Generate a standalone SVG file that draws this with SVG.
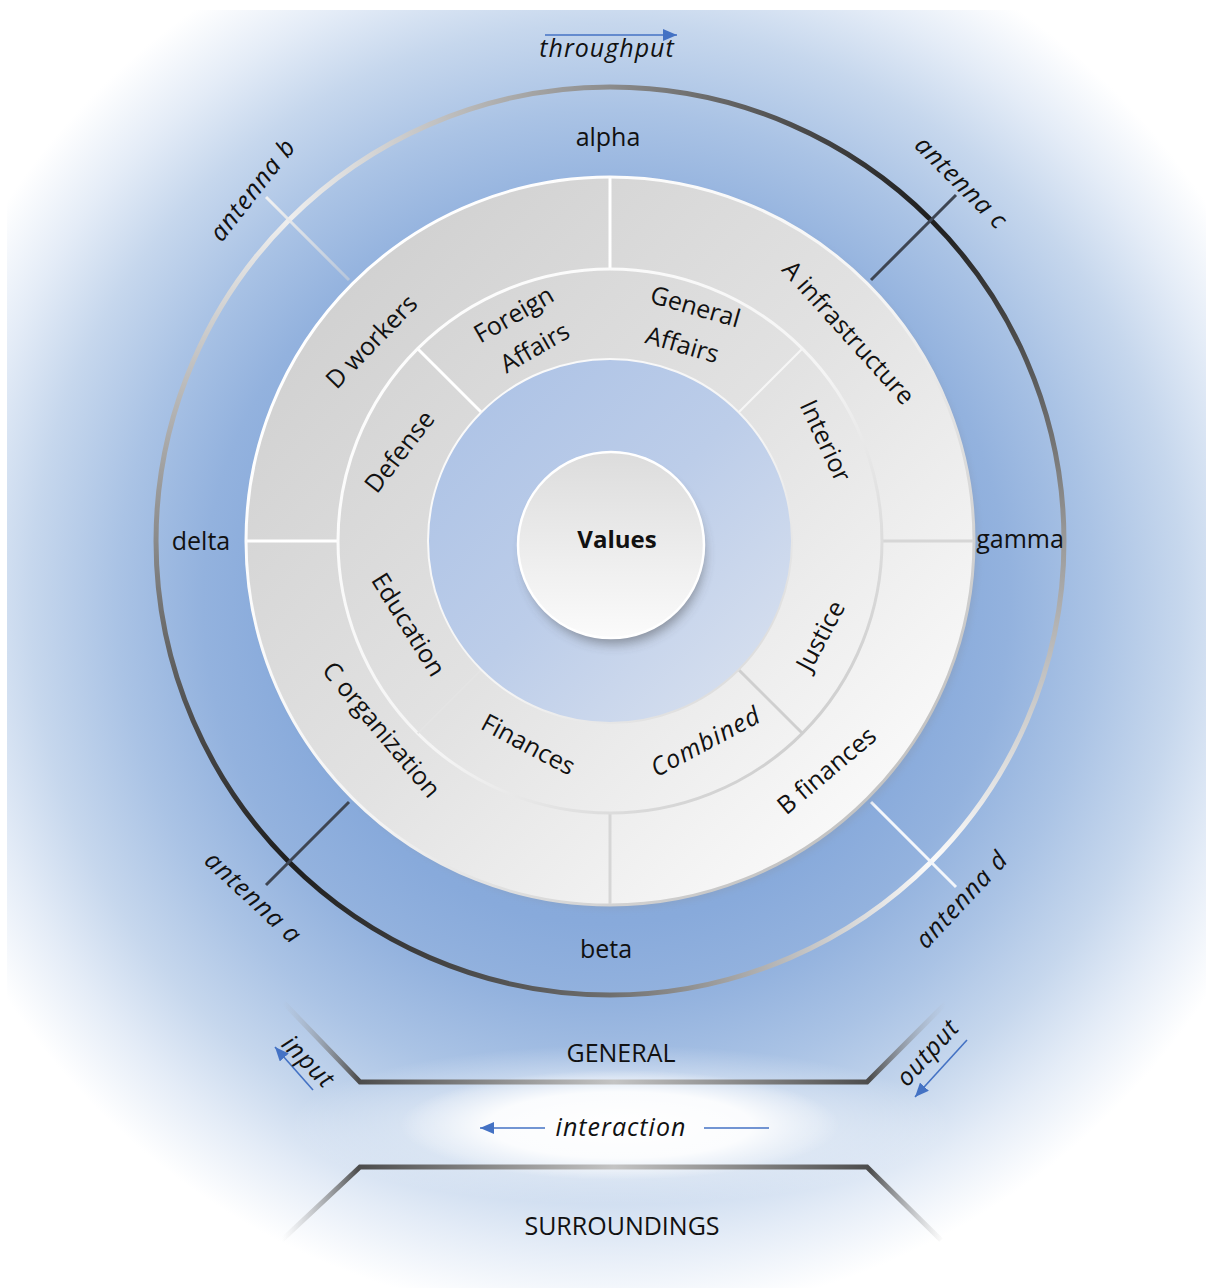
<svg xmlns="http://www.w3.org/2000/svg" width="1206" height="1288" viewBox="0 0 1206 1288">
<style>
.lbl{font-family:"Open Sans","Noto Sans",sans-serif;font-size:25px;fill:#111;text-anchor:middle}
.it{font-style:italic;letter-spacing:1px}
.bold{font-weight:bold;font-size:24px}
.arrow{stroke:#4472c4;stroke-width:1.6;fill:none}
.ant{stroke-width:3;fill:none}
</style>
<defs>
<radialGradient id="bg" gradientUnits="userSpaceOnUse" cx="606" cy="600" r="720">
<stop offset="0" stop-color="#7ea2d6"/>
<stop offset="0.45" stop-color="#88aadb"/>
<stop offset="0.56" stop-color="#93b2de"/>
<stop offset="0.68" stop-color="#aac3e5"/>
<stop offset="0.8" stop-color="#c6d7ed"/>
<stop offset="0.9" stop-color="#e4ecf7"/>
<stop offset="1" stop-color="#ffffff"/>
</radialGradient>
<radialGradient id="glow" cx="0.5" cy="0.5" r="0.5">
<stop offset="0" stop-color="#ffffff" stop-opacity="1"/>
<stop offset="0.6" stop-color="#ffffff" stop-opacity="0.9"/>
<stop offset="1" stop-color="#ffffff" stop-opacity="0"/>
</radialGradient>
<linearGradient id="grayFill" gradientUnits="userSpaceOnUse" x1="330" y1="260" x2="900" y2="830">
<stop offset="0" stop-color="#d0d0d0"/>
<stop offset="0.5" stop-color="#e2e2e2"/>
<stop offset="1" stop-color="#fbfbfb"/>
</linearGradient>
<linearGradient id="edge" gradientUnits="userSpaceOnUse" x1="360" y1="290" x2="860" y2="790">
<stop offset="0" stop-color="#ffffff"/>
<stop offset="0.55" stop-color="#f4f4f4"/>
<stop offset="1" stop-color="#c4c4c4"/>
</linearGradient>
<linearGradient id="blueFill" gradientUnits="userSpaceOnUse" x1="480" y1="410" x2="740" y2="670">
<stop offset="0" stop-color="#afc4e6"/>
<stop offset="0.5" stop-color="#bccde9"/>
<stop offset="1" stop-color="#d3ddee"/>
</linearGradient>
<linearGradient id="btn" x1="0" y1="0" x2="0" y2="1">
<stop offset="0" stop-color="#dcdcdc"/>
<stop offset="1" stop-color="#fbfbfb"/>
</linearGradient>
<linearGradient id="ringTop" gradientUnits="userSpaceOnUse" x1="289" y1="0" x2="931" y2="0">
<stop offset="0" stop-color="#eeeeee"/>
<stop offset="0.5" stop-color="#8c8c8c"/>
<stop offset="1" stop-color="#1e1e1e"/>
</linearGradient>
<linearGradient id="ringRight" gradientUnits="userSpaceOnUse" x1="0" y1="220" x2="0" y2="862">
<stop offset="0" stop-color="#1e1e1e"/>
<stop offset="0.5" stop-color="#9a9a9a"/>
<stop offset="1" stop-color="#fafafa"/>
</linearGradient>
<linearGradient id="ringBottom" gradientUnits="userSpaceOnUse" x1="931" y1="0" x2="289" y2="0">
<stop offset="0" stop-color="#fafafa"/>
<stop offset="0.5" stop-color="#6e6e6e"/>
<stop offset="1" stop-color="#1e1e1e"/>
</linearGradient>
<linearGradient id="ringLeft" gradientUnits="userSpaceOnUse" x1="0" y1="862" x2="0" y2="220">
<stop offset="0" stop-color="#1e1e1e"/>
<stop offset="0.5" stop-color="#8a8a8a"/>
<stop offset="1" stop-color="#eeeeee"/>
</linearGradient>
<linearGradient id="hex" gradientUnits="userSpaceOnUse" x1="282" y1="0" x2="946" y2="0">
<stop offset="0" stop-color="#b0b0b0" stop-opacity="0"/>
<stop offset="0.115" stop-color="#4c4c4c"/>
<stop offset="0.5" stop-color="#c4c4c4"/>
<stop offset="0.885" stop-color="#4c4c4c"/>
<stop offset="1" stop-color="#b0b0b0" stop-opacity="0"/>
</linearGradient>
<linearGradient id="antB" gradientUnits="userSpaceOnUse" x1="266" y1="197" x2="349" y2="280">
<stop offset="0" stop-color="#f2f2f2"/>
<stop offset="1" stop-color="#d8d8d8" stop-opacity="0.5"/>
</linearGradient>
<filter id="shadow" x="-30%" y="-30%" width="160%" height="160%">
<feGaussianBlur stdDeviation="6"/>
</filter>
<filter id="soft" x="-30%" y="-30%" width="160%" height="160%">
<feGaussianBlur stdDeviation="3"/>
</filter>
<marker id="ah" viewBox="0 0 14 12" refX="14" refY="6" markerWidth="14" markerHeight="12" markerUnits="userSpaceOnUse" orient="auto">
<path d="M0,0 L14,6 L0,12 Z" fill="#4472c4"/>
</marker>
</defs>

<g id="background">
<rect x="0" y="0" width="1206" height="1288" fill="#ffffff"/>
<rect x="7" y="10" width="1199" height="1278" fill="url(#bg)"/>
<ellipse cx="620" cy="1125" rx="330" ry="80" fill="url(#glow)" opacity="0.45"/>
<ellipse cx="620" cy="1125" rx="220" ry="55" fill="url(#glow)"/>
</g>

<g id="outer-ring">
<path d="M289,220 A454,454 0 0 1 931,220" fill="none" stroke="url(#ringTop)" stroke-width="5"/>
<path d="M931,220 A454,454 0 0 1 931,862" fill="none" stroke="url(#ringRight)" stroke-width="5"/>
<path d="M931,862 A454,454 0 0 1 289,862" fill="none" stroke="url(#ringBottom)" stroke-width="5"/>
<path d="M289,862 A454,454 0 0 1 289,220" fill="none" stroke="url(#ringLeft)" stroke-width="5"/>
</g>

<g id="connectors">
<line class="ant" x1="349" y1="280" x2="266" y2="197" stroke="url(#antB)"/>
<line class="ant" x1="871" y1="280" x2="956" y2="195" stroke="#3e4552"/>
<line class="ant" x1="349" y1="802" x2="266" y2="885" stroke="#3e4552"/>
<line class="ant" x1="871" y1="802" x2="956" y2="887" stroke="#f3f6fb"/>
<line class="arrow" x1="545" y1="35" x2="677" y2="35" marker-end="url(#ah)"/>
<line class="arrow" x1="313" y1="1090" x2="275" y2="1047" marker-end="url(#ah)"/>
<line class="arrow" x1="967" y1="1040" x2="915" y2="1097" marker-end="url(#ah)"/>
<line class="arrow" x1="545" y1="1128" x2="480" y2="1128" marker-end="url(#ah)"/>
<line class="arrow" x1="704" y1="1128" x2="769" y2="1128"/>
</g>

<g id="environment">
<path d="M284,1003 L360,1082 L867,1082 L946,1003" fill="none" stroke="url(#hex)" stroke-width="5" stroke-linejoin="miter"/>
<path d="M282,1240 L360,1167 L867,1167 L941,1240" fill="none" stroke="url(#hex)" stroke-width="5" stroke-linejoin="miter"/>
</g>

<g id="outer-disc">
<circle cx="614" cy="545" r="364" fill="#8a9ab0" opacity="0.35" filter="url(#soft)"/>
<circle cx="610" cy="541" r="364" fill="url(#grayFill)" stroke="url(#edge)" stroke-width="3"/>
<line x1="610" y1="178" x2="610" y2="269" stroke="#ffffff" stroke-width="3"/>
<line x1="247" y1="541" x2="338" y2="541" stroke="#ffffff" stroke-width="3"/>
<line x1="882" y1="541" x2="973" y2="541" stroke="#d6d6d6" stroke-width="3"/>
<line x1="610" y1="813" x2="610" y2="904" stroke="#d6d6d6" stroke-width="3"/>
</g>

<g id="inner-ring">
<circle cx="610" cy="541" r="272" fill="url(#grayFill)" stroke="url(#edge)" stroke-width="3"/>
<line x1="481.3" y1="412.3" x2="417.7" y2="348.7" stroke="#ffffff" stroke-width="3"/>
<line x1="738.7" y1="412.3" x2="802.3" y2="348.7" stroke="#f6f6f6" stroke-width="2"/>
<line x1="738.7" y1="669.7" x2="802.3" y2="733.3" stroke="#cfcfcf" stroke-width="3"/>
<line x1="481.3" y1="669.7" x2="417.7" y2="733.3" stroke="#e4e4e4" stroke-width="2"/>
</g>

<g id="core">
<circle cx="610" cy="541" r="182" fill="url(#blueFill)" stroke="url(#edge)" stroke-width="2"/>
</g>

<g id="values">
<circle cx="614" cy="554" r="90" fill="#3a3a3a" opacity="0.45" filter="url(#shadow)"/>
<circle cx="611" cy="545" r="93" fill="url(#btn)" stroke="#ffffff" stroke-width="2.5"/>
<text class="lbl bold" x="617" y="548">Values</text>
</g>

<g id="outer-labels">
<text class="lbl" x="608" y="146">alpha</text>
<text class="lbl" x="201" y="550">delta</text>
<text class="lbl" x="1020" y="548">gamma</text>
<text class="lbl" x="606" y="958">beta</text>
<text class="lbl it" x="607" y="57">throughput</text>
</g>

<g id="antennas">
<text class="lbl it" transform="translate(253,190) rotate(-52)" y="8">antenna b</text>
<text class="lbl it" transform="translate(961,183) rotate(45)" y="8">antenna c</text>
<text class="lbl it" transform="translate(253,898) rotate(43)" y="8">antenna a</text>
<text class="lbl it" transform="translate(962,900) rotate(-47)" y="8">antenna d</text>
</g>

<g id="quadrants">
<text class="lbl" transform="translate(372,342) rotate(-46)" y="8">D workers</text>
<text class="lbl" transform="translate(848,333) rotate(48)" y="8">A infrastructure</text>
<text class="lbl" transform="translate(381,730) rotate(50)" y="8">C organization</text>
<text class="lbl" transform="translate(827,771) rotate(-40)" y="8">B finances</text>
</g>

<g id="departments">
<text class="lbl" transform="translate(518,322) rotate(-30)">Foreign</text>
<text class="lbl" transform="translate(539,355) rotate(-30)">Affairs</text>
<text class="lbl" transform="translate(693,315) rotate(16)">General</text>
<text class="lbl" transform="translate(680,353) rotate(16)">Affairs</text>
<text class="lbl" transform="translate(825,441) rotate(65)" y="8">Interior</text>
<text class="lbl" transform="translate(821,636) rotate(-62)" y="8">Justice</text>
<text class="lbl it" transform="translate(706,742) rotate(-28)" y="8">Combined</text>
<text class="lbl" transform="translate(528,745) rotate(28)" y="8">Finances</text>
<text class="lbl" transform="translate(408,625) rotate(58)" y="8">Education</text>
<text class="lbl" transform="translate(400,452) rotate(-52)" y="8">Defense</text>
</g>

<g id="exchange">
<text class="lbl" x="621" y="1062">GENERAL</text>
<text class="lbl it" x="621" y="1136">interaction</text>
<text class="lbl" x="622" y="1235">SURROUNDINGS</text>
<text class="lbl it" transform="translate(308,1062) rotate(45)" y="8">input</text>
<text class="lbl it" transform="translate(928,1053) rotate(-48)" y="8">output</text>
</g>
</svg>
